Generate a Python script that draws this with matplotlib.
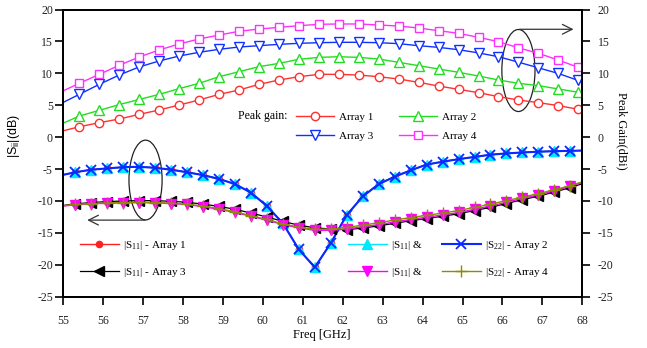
import matplotlib
matplotlib.use("Agg")
import matplotlib.pyplot as plt
from matplotlib.patches import Ellipse

plt.rcParams["font.family"] = ["Liberation Serif", "DejaVu Serif"]
plt.rcParams["axes.unicode_minus"] = False
plt.rcParams["mathtext.fontset"] = "custom"
plt.rcParams["mathtext.rm"] = "Liberation Serif"
plt.rcParams["mathtext.sf"] = "Liberation Sans"

# Peak gain (dBi), right axis
gain_freq = [55.0, 55.4, 55.9, 56.4, 56.9, 57.4, 57.9, 58.4, 58.9, 59.4, 59.9, 60.4, 60.9, 61.4,
             61.9, 62.4, 62.9, 63.4, 63.9, 64.4, 64.9, 65.4, 65.9, 66.4, 66.9, 67.4, 67.9, 68.0]
gain_a1 = [1.0, 1.63, 2.26, 2.84, 3.57, 4.25, 5.03, 5.82, 6.70, 7.38, 8.27, 8.95, 9.47, 9.84,
           9.84, 9.73, 9.47, 9.11, 8.59, 8.01, 7.49, 6.97, 6.35, 5.82, 5.41, 4.94, 4.36, 4.25]
gain_a2 = [2.2, 3.3, 4.2, 5.1, 5.9, 6.7, 7.6, 8.43, 9.47, 10.25, 11.04, 11.56, 12.19, 12.5,
           12.6, 12.5, 12.24, 11.72, 11.2, 10.68, 10.16, 9.58, 8.96, 8.43, 8.07, 7.55, 7.03, 6.85]
gain_a3 = [5.45, 6.7, 8.27, 9.73, 11.0, 11.93, 12.71, 13.29, 13.76, 14.12, 14.33, 14.54, 14.7, 14.8,
           14.86, 14.86, 14.8, 14.65, 14.33, 14.07, 13.7, 13.2, 12.6, 11.75, 10.86, 9.98, 8.88, 8.5]
gain_a4 = [7.27, 8.43, 9.84, 11.25, 12.56, 13.65, 14.6, 15.38, 16.0, 16.58, 16.94, 17.2, 17.46, 17.68,
           17.73, 17.73, 17.57, 17.41, 17.1, 16.68, 16.27, 15.64, 14.96, 14.0, 13.13, 12.08, 10.94, 10.6]

# S-parameters (dB), left axis
s_freq = [55.0, 55.3, 55.7, 56.1, 56.5, 56.9, 57.3, 57.7, 58.1, 58.5, 58.9, 59.3, 59.7, 60.1,
          60.5, 60.9, 61.3, 61.7, 62.1, 62.5, 62.9, 63.3, 63.7, 64.1, 64.5, 64.9, 65.3, 65.7,
          66.1, 66.5, 66.9, 67.3, 67.7, 68.0]
s_a12 = [-5.9, -5.5, -5.1, -4.9, -4.7, -4.65, -4.8, -5.1, -5.5, -5.95, -6.55, -7.35, -8.7, -10.8,
         -13.5, -17.6, -20.4, -16.6, -12.2, -9.3, -7.35, -6.2, -5.2, -4.3, -3.85, -3.45, -3.1, -2.75,
         -2.55, -2.4, -2.28, -2.2, -2.15, -2.1]
s11_a3 = [-10.7, -10.45, -10.25, -10.1, -10.0, -9.95, -9.95, -10.05, -10.2, -10.5, -10.85, -11.3,
          -11.9, -12.5, -13.2, -13.8, -14.2, -14.4, -14.5, -14.25, -13.9, -13.5, -13.1, -12.75,
          -12.4, -12.0, -11.5, -11.0, -10.4, -9.8, -9.25, -8.6, -7.9, -7.3]
s11_a4 = [-10.8, -10.6, -10.45, -10.35, -10.3, -10.25, -10.3, -10.4, -10.55, -10.9, -11.3, -11.8,
          -12.4, -13.0, -13.7, -14.2, -14.6, -14.6, -14.4, -14.05, -13.7, -13.3, -12.9, -12.55,
          -12.2, -11.8, -11.3, -10.8, -10.2, -9.6, -9.05, -8.4, -7.7, -7.1]
s22_a4 = [-10.75, -10.55, -10.4, -10.3, -10.25, -10.2, -10.25, -10.35, -10.5, -10.8, -11.2, -11.7,
          -12.3, -12.9, -13.6, -14.1, -14.45, -14.4, -14.15, -13.8, -13.4, -13.0, -12.6, -12.25,
          -11.9, -11.5, -11.0, -10.5, -9.95, -9.4, -8.85, -8.25, -7.6, -7.0]

W, H = 647, 348


def px(x, y):
    # pixel position -> figure fraction
    return (x / W, 1 - y / H)


fig = plt.figure(figsize=(W / 100, H / 100), dpi=100)
ax = fig.add_axes([63.3 / W, 1 - 296.7 / H, 519 / W, 287.2 / H])
ax2 = ax.twinx()

mk = slice(1, -1)

# S-parameter curves
l_r, = ax.plot(s_freq, s_a12, color="#ff2020", lw=1.0, marker="o", ms=4.5, markevery=mk)
l_c, = ax.plot(s_freq, s_a12, color="#00e8ff", lw=1.0, marker="^", ms=7, markevery=mk)
l_b, = ax.plot(s_freq, s_a12, color="#0a28ff", lw=1.5, marker="x", ms=7, mew=1.3, markevery=mk)
l_k, = ax.plot(s_freq, s11_a3, color="black", lw=0.9, marker="<", ms=6.5, markevery=mk)
l_m, = ax.plot(s_freq, s11_a4, color="#ff00ff", lw=1.0, marker="v", ms=7, markevery=mk)
l_o, = ax.plot(s_freq, s22_a4, color="#8c8c00", lw=1.0, marker="+", ms=8, mew=1.0, markevery=mk)

# peak gain curves
g1, = ax2.plot(gain_freq, gain_a1, color="#ff3030", lw=1.0, marker="o", ms=6, mfc="white", markevery=mk)
g2, = ax2.plot(gain_freq, gain_a2, color="#22dd22", lw=1.0, marker="^", ms=7, mfc="white", markevery=mk)
g3, = ax2.plot(gain_freq, gain_a3, color="#1030ff", lw=1.0, marker="v", ms=7.5, mfc="white", markevery=mk)
g4, = ax2.plot(gain_freq, gain_a4, color="#ff30ff", lw=1.0, marker="s", ms=5.5, mfc="white", markevery=mk)

for a in (ax, ax2):
    a.set_xlim(55, 68)
    a.set_ylim(-25, 20)
    a.set_yticks(range(-25, 21, 5))
    for s in a.spines.values():
        s.set_linewidth(1.3)
ax.set_xticks(range(55, 69))
ax.tick_params(axis="both", direction="out", length=6, width=1.2, labelsize=8.5,
               labelcolor="#222222", top=False, right=False)
ax.tick_params(axis="x", pad=7.5)
ax.tick_params(axis="y", pad=1.5)
ax2.tick_params(axis="y", direction="out", length=6, width=1.2, labelsize=8.5,
                labelcolor="#222222", pad=5)

ax.set_ylabel(r"|S$_{\mathsf{ii}}$|(dB)", family="Liberation Sans", fontsize=9)
ax.yaxis.set_label_coords(-0.08, 0.56)
ax2.set_ylabel("Peak Gain(dBi)", rotation=270, fontsize=9, va="center", ha="center")
ax2.yaxis.set_label_coords(1.0765, 0.577)
ax.set_xlabel("Freq [GHz]", fontsize=9)
ax.xaxis.set_label_coords(0.498, -0.113)

# ellipses and arrows
ax.add_patch(Ellipse((57.06, -6.72), 0.83, 12.5, fill=False, ec="#222222", lw=0.9))
ax.annotate("", xy=(55.6, -13.0), xytext=(57.05, -13.0),
            arrowprops=dict(arrowstyle="->,head_length=0.7,head_width=0.35", color="#333333",
                            lw=0.9, shrinkA=0, shrinkB=0))
ax2.add_patch(Ellipse((66.4, 10.44), 0.83, 12.85, fill=False, ec="#222222", lw=0.9))
ax2.annotate("", xy=(67.78, 16.9), xytext=(66.43, 16.9),
             arrowprops=dict(arrowstyle="->,head_length=0.7,head_width=0.35", color="#333333",
                             lw=0.9, shrinkA=0, shrinkB=0))

# legends
common = dict(loc="center left", bbox_transform=fig.transFigure, frameon=False, borderpad=0,
              borderaxespad=0, fontsize=8, numpoints=1)
fig.text(*px(288, 116), "Peak gain:", ha="right", va="center", fontsize=8.5)
leg1 = ax2.legend([g1, g3], ["Array 1", "Array 3"], bbox_to_anchor=px(296, 126.5),
                  handlelength=3.4, handletextpad=0.5, labelspacing=0.9, **common)
ax2.add_artist(leg1)
ax2.legend([g2, g4], ["Array 2", "Array 4"], bbox_to_anchor=px(399, 126.5),
           handlelength=3.4, handletextpad=0.5, labelspacing=0.9, **common)

leg3 = ax.legend([l_r, l_k], [r"|S$_{11}$| - Array 1", r"|S$_{11}$| - Array 3"],
                 bbox_to_anchor=px(80, 259), handlelength=3.5, handletextpad=0.4,
                 labelspacing=1.2, **common)
ax.add_artist(leg3)
leg4 = ax.legend([l_c, l_m], [r"|S$_{11}$| &", r"|S$_{11}$| &"],
                 bbox_to_anchor=px(348, 259), handlelength=3.5, handletextpad=0.4,
                 labelspacing=1.2, **common)
ax.add_artist(leg4)
ax.legend([l_b, l_o], [r"|S$_{22}$| - Array 2", r"|S$_{22}$| - Array 4"],
          bbox_to_anchor=px(441.7, 259), handlelength=3.5, handletextpad=0.4,
          labelspacing=1.2, **common)

fig.savefig("out.png", dpi=100)
